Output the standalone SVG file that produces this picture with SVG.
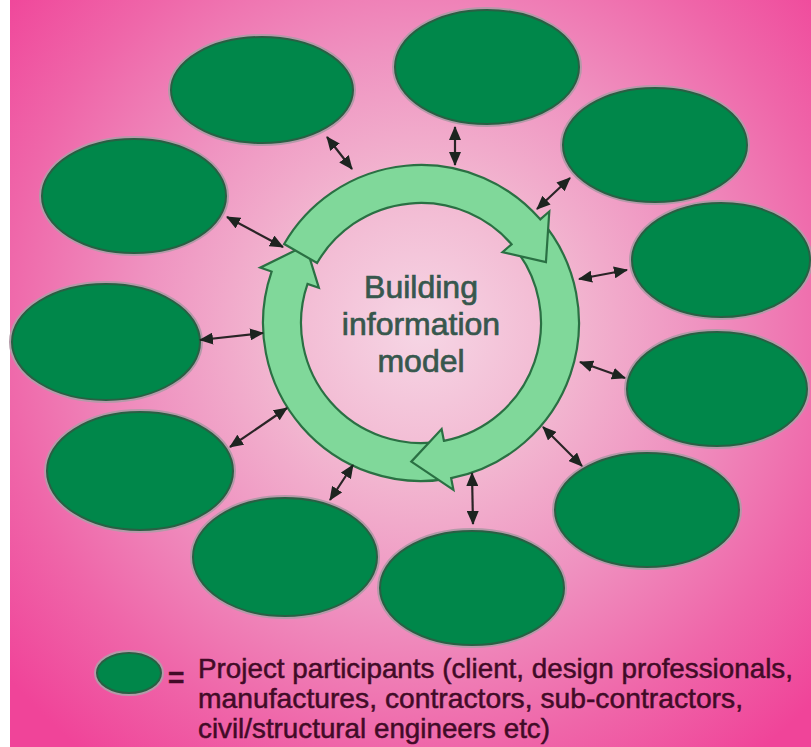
<svg xmlns="http://www.w3.org/2000/svg" width="811" height="747" viewBox="0 0 811 747">
  <defs>
    <radialGradient id="bg" gradientUnits="userSpaceOnUse" cx="421" cy="330" r="540">
      <stop offset="0" stop-color="#f6d6e5"/>
      <stop offset="0.28" stop-color="#f2b6d0"/>
      <stop offset="0.52" stop-color="#ef92c0"/>
      <stop offset="0.78" stop-color="#ef66a9"/>
      <stop offset="1" stop-color="#f04499"/>
    </radialGradient>
    <marker id="head" markerUnits="userSpaceOnUse" viewBox="0 0 14 12" refX="13" refY="6" markerWidth="14" markerHeight="12" orient="auto-start-reverse">
      <path d="M0,0 L14,6 L0,12 Z" fill="#1d2420"/>
    </marker>
    <style>
      .halo { fill: none; stroke: #b39aa8; stroke-width: 6; }
      .node { fill: #00874a; stroke: #2a5f44; stroke-width: 2; }
      .cycle { fill: #80d89a; stroke: #2a7043; stroke-width: 2.2; stroke-linejoin: miter; }
      .link { stroke: #2a2426; stroke-width: 2.2; fill: none; marker-start: url(#head); marker-end: url(#head); }
      .core { font-family: "Liberation Sans", Arial, sans-serif; font-size: 32px; fill: #37574d; stroke: #37574d; stroke-width: 0.7; text-anchor: middle; }
      .key { font-family: "Liberation Sans", Arial, sans-serif; font-size: 28px; fill: #420b27; stroke: #420b27; stroke-width: 0.5; }
    </style>
  </defs>

  <!-- background -->
  <rect x="0" y="0" width="811" height="747" fill="url(#bg)"/>
  <rect x="0" y="0" width="10" height="747" fill="#ffffff"/>

  <!-- participant nodes -->
  <g id="p1"><ellipse class="halo" cx="262" cy="90" rx="91" ry="53"/><ellipse class="node" cx="262" cy="90" rx="91" ry="53"/></g>
  <g id="p2"><ellipse class="halo" cx="487" cy="67" rx="92" ry="57"/><ellipse class="node" cx="487" cy="67" rx="92" ry="57"/></g>
  <g id="p3"><ellipse class="halo" cx="655" cy="145" rx="92" ry="57"/><ellipse class="node" cx="655" cy="145" rx="92" ry="57"/></g>
  <g id="p4"><ellipse class="halo" cx="721" cy="260" rx="89" ry="57"/><ellipse class="node" cx="721" cy="260" rx="89" ry="57"/></g>
  <g id="p5"><ellipse class="halo" cx="717" cy="389" rx="90" ry="57"/><ellipse class="node" cx="717" cy="389" rx="90" ry="57"/></g>
  <g id="p6"><ellipse class="halo" cx="647" cy="510" rx="92" ry="57"/><ellipse class="node" cx="647" cy="510" rx="92" ry="57"/></g>
  <g id="p7"><ellipse class="halo" cx="472" cy="588" rx="92" ry="57"/><ellipse class="node" cx="472" cy="588" rx="92" ry="57"/></g>
  <g id="p8"><ellipse class="halo" cx="285" cy="557" rx="92" ry="59"/><ellipse class="node" cx="285" cy="557" rx="92" ry="59"/></g>
  <g id="p9"><ellipse class="halo" cx="140" cy="471" rx="93" ry="59"/><ellipse class="node" cx="140" cy="471" rx="93" ry="59"/></g>
  <g id="p10"><ellipse class="halo" cx="106" cy="342" rx="94" ry="58"/><ellipse class="node" cx="106" cy="342" rx="94" ry="58"/></g>
  <g id="p11"><ellipse class="halo" cx="134" cy="196" rx="92" ry="57"/><ellipse class="node" cx="134" cy="196" rx="92" ry="57"/></g>

  <!-- central model: three clockwise arrow segments -->
  <g id="model">
    <path class="cycle" d="M451.15,478.10 A158,158 0 0 1 271.61,271.56 L260.26,267.65 L305.76,245.27 L318.88,287.84 L307.54,283.93 A120,120 0 0 0 443.90,440.80 Z"/>
    <path class="cycle" d="M540.24,219.34 A158,158 0 0 1 451.15,478.10 L453.44,489.88 L411.30,461.66 L441.61,429.02 L443.90,440.80 A120,120 0 0 0 511.57,244.27 Z"/>
    <path class="cycle" d="M284.17,244.00 A158,158 0 0 1 540.24,219.34 L549.30,211.47 L545.93,262.07 L502.51,252.15 L511.57,244.27 A120,120 0 0 0 317.08,263.00 Z"/>
    <text class="core" x="421" y="298">Building</text>
    <text class="core" x="421" y="335">information</text>
    <text class="core" x="421" y="372">model</text>
  </g>

  <!-- two-way links between participants and the model -->
  <g id="links">
    <line class="link" x1="327" y1="137" x2="352" y2="169"/>
    <line class="link" x1="455" y1="127" x2="455" y2="165"/>
    <line class="link" x1="570" y1="178" x2="537" y2="209"/>
    <line class="link" x1="627" y1="270" x2="579" y2="279"/>
    <line class="link" x1="580" y1="362" x2="625" y2="378"/>
    <line class="link" x1="543" y1="427" x2="582" y2="466"/>
    <line class="link" x1="472" y1="473" x2="473" y2="524"/>
    <line class="link" x1="353" y1="465" x2="330" y2="500"/>
    <line class="link" x1="287" y1="408" x2="230" y2="447"/>
    <line class="link" x1="200" y1="340" x2="263" y2="333"/>
    <line class="link" x1="227" y1="217" x2="283" y2="247"/>
  </g>

  <!-- key -->
  <g id="legend">
    <ellipse class="halo" cx="129" cy="673" rx="32" ry="20"/>
    <ellipse class="node" cx="129" cy="673" rx="32" ry="20"/>
    <text class="key" x="168" y="687" font-weight="bold" font-size="26">=</text>
    <text class="key" x="198" y="678" textLength="595" lengthAdjust="spacingAndGlyphs">Project participants (client, design professionals,</text>
    <text class="key" x="198" y="708" textLength="545" lengthAdjust="spacingAndGlyphs">manufactures, contractors, sub-contractors,</text>
    <text class="key" x="198" y="738" textLength="352" lengthAdjust="spacingAndGlyphs">civil/structural engineers etc)</text>
  </g>
</svg>
